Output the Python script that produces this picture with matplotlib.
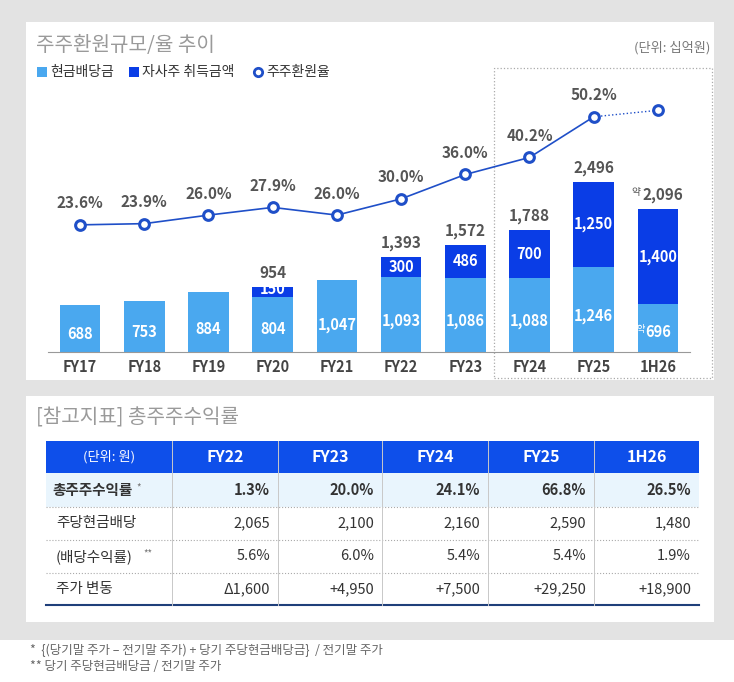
import matplotlib
matplotlib.use('Agg')
import matplotlib.pyplot as plt
from matplotlib.patches import Rectangle

plt.rcParams['font.family'] = ['Noto Sans CJK KR', 'DejaVu Sans']

# ── data ──
years = ['FY17', 'FY18', 'FY19', 'FY20', 'FY21', 'FY22', 'FY23', 'FY24', 'FY25', '1H26']
cash = [688, 753, 884, 804, 1047, 1093, 1086, 1088, 1246, 696]
buyback = [0, 0, 0, 150, 0, 300, 486, 700, 1250, 1400]
totals = [None, None, None, 954, None, 1393, 1572, 1788, 2496, 2096]
rate = [23.6, 23.9, 26.0, 27.9, 26.0, 30.0, 36.0, 40.2, 50.2, 51.8]
rate_lbl = ['23.6%', '23.9%', '26.0%', '27.9%', '26.0%', '30.0%', '36.0%', '40.2%', '50.2%', '']

tbl_cols = ['FY22', 'FY23', 'FY24', 'FY25', '1H26']
tsr = ['1.3%', '20.0%', '24.1%', '66.8%', '26.5%']
dps = ['2,065', '2,100', '2,160', '2,590', '1,480']
dy = ['5.6%', '6.0%', '5.4%', '5.4%', '1.9%']
price_chg = ['Δ1,600', '+4,950', '+7,500', '+29,250', '+18,900']

LIGHT, DARK, LINE = '#4aa8ef', '#0a3de6', '#1f4fc8'
W, H = 734, 682
fig = plt.figure(figsize=(W/100, H/100), dpi=100, facecolor='white')

def fx(x): return x / W
def fy(y): return 1 - y / H
def txt(x, y, s, **kw): fig.text(fx(x), fy(y), s, **kw)
def rect(x0, y0, x1, y1, **kw):
    fig.patches.append(Rectangle((fx(x0), fy(y1)), fx(x1-x0), (y1-y0)/H, transform=fig.transFigure, **kw))

# backgrounds
rect(0, 0, W, 640, facecolor='#e3e3e3', edgecolor='none', zorder=-3)
rect(26, 22, 714, 380, facecolor='white', edgecolor='none', zorder=-2)
rect(26, 396, 714, 622, facecolor='white', edgecolor='none', zorder=-2)
rect(494, 68, 712, 378, facecolor='none', edgecolor='#aaaaaa', ls=':', lw=0.9, zorder=-1)

# ── chart ──
txt(36, 45, '주주환원규모/율 추이', fontsize=14.5, color='#9a9a9a', va='center')
txt(710, 48, '(단위: 십억원)', fontsize=9.5, color='#777777', va='center', ha='right')
lx = 38
for mk, col, lab, w in [('s', LIGHT, '현금배당금', 92), ('s', DARK, '자사주 취득금액', 124), ('o', LINE, '주주환원율', 70)]:
    fig.lines.append(plt.Line2D([fx(lx+4)], [fy(72)], transform=fig.transFigure, marker=mk,
                                markersize=7 if mk == 's' else 6, markerfacecolor=col if mk == 's' else 'white',
                                markeredgecolor=col, markeredgewidth=2 if mk == 'o' else 0, ls='none'))
    txt(lx+12, 72, lab, fontsize=10, color='#333333', va='center')
    lx += w

ax = fig.add_axes([fx(48), fy(352), fx(642), 262/H])
ax.set_zorder(5); ax.patch.set_alpha(0)
x = list(range(len(years)))
ax.bar(x, cash, width=0.63, color=LIGHT, zorder=2)
ax.bar(x, buyback, bottom=cash, width=0.63, color=DARK, zorder=2)
ax.set_xlim(-0.5, 9.5); ax.set_ylim(0, 3836)
for s in ['top', 'right', 'left']:
    ax.spines[s].set_visible(False)
ax.spines['bottom'].set_color('#999999')
ax.set_yticks([])
ax.set_xticks(x); ax.set_xticklabels(years, fontsize=10.5, fontweight='bold', color='#444444')
ax.tick_params(axis='x', length=0, pad=5)
for i in x:
    c, b = cash[i], buyback[i]
    pre = '약' if years[i] == '1H26' else ''
    ax.text(i, c*0.38 if b == 0 else c*0.42, f'{c:,}', ha='center', va='center', color='white', fontsize=10.5, fontweight='bold', zorder=3)
    if pre:
        ax.text(i-0.27, c*0.42+40, pre, ha='center', va='center', color='white', fontsize=6.5, zorder=3)
    if b:
        ax.text(i, c + b/2 + (40 if b < 200 else 0), f'{b:,}', ha='center', va='center', color='white', fontsize=10.5, fontweight='bold', zorder=3)
    if totals[i]:
        ax.text(i + (0.08 if pre else 0), c + b + 80, f'{totals[i]:,}', ha='center', va='bottom', color='#555555', fontsize=11, fontweight='bold')
        if pre:
            ax.text(i-0.35, c + b + 170, pre, ha='center', va='bottom', color='#555555', fontsize=7)

ax2 = ax.twinx()
ax2.set_zorder(6); ax2.patch.set_alpha(0)
ax2.set_ylim(-7.7, 56.8); ax2.axis('off')
ax2.plot(x[:9], rate[:9], color=LINE, lw=1.2, zorder=4)
ax2.plot(x[8:], rate[8:], color=LINE, lw=1.0, ls=':', zorder=4)
ax2.plot(x, rate, 'o', markersize=7, markerfacecolor='white', markeredgecolor=LINE, markeredgewidth=2.2, zorder=5)
for i in x:
    if rate_lbl[i]:
        ax2.text(i, rate[i] + 3.3, rate_lbl[i], ha='center', va='bottom', color='#555555', fontsize=11, fontweight='bold')

# ── table ──
txt(36, 418, '[참고지표] 총주주수익률', fontsize=14.5, color='#9a9a9a', va='center')
cx = [46, 172, 278, 382, 488, 594, 699]
ry = [441, 473, 507, 540, 573, 605]
rect(cx[0], ry[0], cx[-1], ry[1], facecolor='#0e4fea', edgecolor='none', zorder=1)
rect(cx[0], ry[1], cx[-1], ry[2], facecolor='#e9f5fd', edgecolor='none', zorder=1)
txt((cx[0]+cx[1])/2, (ry[0]+ry[1])/2, '(단위: 원)', fontsize=9.5, color='white', ha='center', va='center')
for j, c in enumerate(tbl_cols):
    txt((cx[j+1]+cx[j+2])/2, (ry[0]+ry[1])/2, c, fontsize=11.5, color='white', fontweight='bold', ha='center', va='center')
rows = [('총주주수익률', tsr, dict(fontweight='bold')), ('주당현금배당', dps, {}),
        ('(배당수익률)', dy, dict(style='italic')), ('주가 변동', price_chg, {})]
for r, (lab, vals, kw) in enumerate(rows):
    yc = (ry[r+1] + ry[r+2]) / 2
    txt(cx[0]+6 if r == 0 else cx[0]+10, yc, lab, fontsize=10.5, color='#333333', va='center', **kw)
    if r == 0:
        txt(cx[0]+90, yc-3, '*', fontsize=7, color='#777777', va='center')
    if r == 2:
        txt(cx[0]+97, yc-3, '**', fontsize=7, color='#777777', va='center')
    for j, v in enumerate(vals):
        txt(cx[j+2]-8, yc, v, fontsize=10.5, color='#333333', ha='right', va='center', **kw)
for yy in ry[2:-1]:
    fig.lines.append(plt.Line2D([fx(cx[0]), fx(cx[-1])], [fy(yy)]*2, transform=fig.transFigure, color='#aaaaaa', lw=0.8, ls=':'))
fig.lines.append(plt.Line2D([fx(cx[0]), fx(cx[-1])], [fy(ry[-1])]*2, transform=fig.transFigure, color='#1f3f7a', lw=1.5))
for xx in cx[1:-1]:
    fig.lines.append(plt.Line2D([fx(xx)]*2, [fy(ry[0]), fy(ry[-1])], transform=fig.transFigure, color='#c8c8c8', lw=0.7))

txt(30, 650, '*  {(당기말 주가 – 전기말 주가) + 당기 주당현금배당금}  / 전기말 주가', fontsize=9, color='#666666', va='center')
txt(30, 667, '** 당기 주당현금배당금 / 전기말 주가', fontsize=9, color='#666666', va='center')

fig.savefig('out.png', dpi=100, facecolor='white')
